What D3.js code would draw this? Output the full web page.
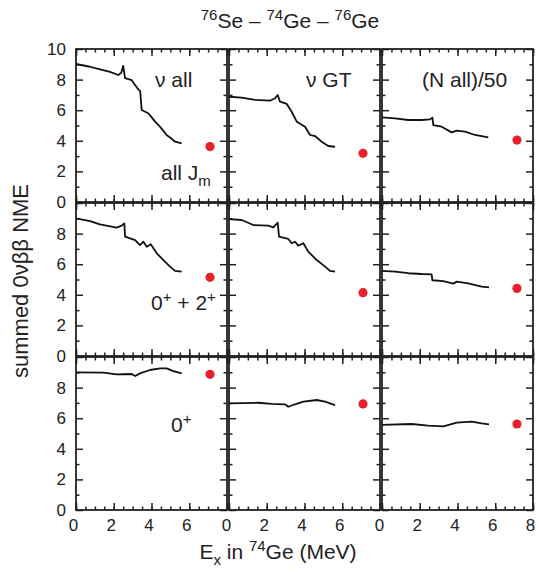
<!DOCTYPE html>
<html>
<head>
<meta charset="utf-8">
<script src="https://cdn.jsdelivr.net/npm/d3@7"></script>
<style>
  body { margin: 0; background: #fff; }
  text { font-family: "Liberation Sans", Arial, Helvetica, sans-serif; fill: #222; }
</style>
</head>
<body>
<div id="chart"></div>
<script>
// summed 0vbb NME vs excitation energy in 74Ge, [E (MeV), NME]
const nuAllAllJ = [[0,9.02],[0.74,8.84],[1.27,8.67],[1.8,8.5],[2.24,8.3],[2.4,8.45],[2.5,8.89],[2.6,8.1],[2.95,7.97],[3.1,7.7],[3.3,7.36],[3.4,7.25],[3.48,6.01],[3.83,5.8],[4.0,5.55],[4.19,5.25],[4.45,4.92],[4.6,4.7],[4.8,4.38],[5.0,4.2],[5.25,3.94],[5.6,3.83]];
const nuGtAllJ = [[0,6.88],[0.67,6.82],[1.38,6.67],[2.17,6.62],[2.44,6.78],[2.58,6.99],[2.7,6.56],[3.06,6.41],[3.32,5.9],[3.59,5.25],[4.03,4.92],[4.29,4.38],[4.56,4.31],[4.91,3.94],[5.26,3.66],[5.62,3.61]];
const nAllAllJ = [[0,5.53],[0.69,5.47],[1.39,5.36],[2.1,5.36],[2.54,5.4],[2.67,5.51],[2.72,5.03],[3.16,4.92],[3.69,4.55],[3.96,4.66],[4.4,4.6],[4.93,4.38],[5.63,4.23]];

const nuAll02 = [[0,9.0],[0.74,8.82],[1.27,8.6],[2.15,8.39],[2.42,8.52],[2.56,8.67],[2.6,7.8],[3.13,7.58],[3.39,7.25],[3.57,7.47],[3.75,7.14],[3.96,7.3],[4.28,6.71],[4.63,6.27],[4.98,5.84],[5.25,5.56],[5.6,5.51]];
const nuGt02 = [[0,8.95],[0.67,8.89],[1.29,8.56],[2.08,8.52],[2.35,8.41],[2.58,8.71],[2.65,7.8],[3.14,7.65],[3.32,7.37],[3.5,7.47],[3.67,7.21],[3.94,7.37],[4.2,6.82],[4.65,6.27],[5.09,5.84],[5.35,5.56],[5.62,5.51]];
const nAll02 = [[0,5.56],[0.69,5.51],[1.39,5.41],[2.1,5.36],[2.63,5.34],[2.67,4.95],[3.25,4.9],[3.78,4.73],[3.96,4.86],[4.57,4.75],[5.28,4.53],[5.67,4.49]];

const nuAll0 = [[0,9.0],[1.45,8.98],[2.15,8.87],[2.95,8.89],[3.13,8.76],[3.39,8.93],[3.92,9.15],[4.45,9.26],[4.8,9.26],[5.16,9.08],[5.6,8.93]];
const nuGt0 = [[0,6.97],[1.55,7.01],[2.26,6.93],[2.97,6.91],[3.14,6.75],[3.5,6.91],[3.94,7.08],[4.65,7.19],[5.09,7.08],[5.35,6.97],[5.62,6.86]];
const nAll0 = [[0,5.56],[1.57,5.62],[2.45,5.51],[3.25,5.47],[3.96,5.71],[4.75,5.77],[5.28,5.66],[5.67,5.6]];

// red points (full calculation), one per panel, row by row
const refE = [7.1, 7.1, 7.15, 7.1, 7.1, 7.15, 7.1, 7.1, 7.15];
const refNme = [3.62, 3.18, 4.05, 5.14, 4.14, 4.42, 8.87, 6.93, 5.62];

const colLabels = ["ν all", "ν GT", "(N all)/50"];
const curves = [
  [nuAllAllJ, nuGtAllJ, nAllAllJ],
  [nuAll02, nuGt02, nAll02],
  [nuAll0, nuGt0, nAll0]
];
const xMajor = [0, 2, 4, 6, 8];
const yMajor = [0, 2, 4, 6, 8, 10];

const width = 539, height = 572;
const panelW = 151, panelH = 153;
const gridLeft = 76, gridTop = 49, colStep = 153, rowStep = 154;

const svg = d3.select("#chart").append("svg")
  .attr("width", width)
  .attr("height", height);

for (let r = 0; r < 3; r++) {
  for (let c = 0; c < 3; c++) {
    const x0 = gridLeft + c * colStep, y0 = gridTop + r * rowStep;
    const x = d3.scaleLinear().domain([0, 8]).range([x0, x0 + panelW]);
    const y = d3.scaleLinear().domain([0, 10]).range([y0 + panelH, y0]);
    const g = svg.append("g");

    const fmtX = d => (r === 2 && (c === 2 || d !== 8)) ? d : "";
    const fmtY = d => (c === 0 && (r === 0 || d !== 10)) ? d : "";

    // bottom
    g.append("g").attr("transform", `translate(0,${y0 + panelH})`)
      .call(d3.axisBottom(x).tickValues(d3.range(0, 8.01, 0.5)).tickSize(-3.5).tickFormat(""));
    g.append("g").attr("class", "xlab").attr("transform", `translate(0,${y0 + panelH})`)
      .call(d3.axisBottom(x).tickValues(xMajor).tickSize(-7).tickPadding(9).tickFormat(fmtX));
    // top
    g.append("g").attr("transform", `translate(0,${y0})`)
      .call(d3.axisTop(x).tickValues(d3.range(0, 8.01, 0.5)).tickSize(-3.5).tickFormat(""));
    g.append("g").attr("transform", `translate(0,${y0})`)
      .call(d3.axisTop(x).tickValues(xMajor).tickSize(-7).tickFormat(""));
    // left
    g.append("g").attr("transform", `translate(${x0},0)`)
      .call(d3.axisLeft(y).tickValues(d3.range(1, 10, 2)).tickSize(-3.5).tickFormat(""));
    g.append("g").attr("transform", `translate(${x0},0)`)
      .call(d3.axisLeft(y).tickValues(yMajor).tickSize(-7).tickPadding(10).tickFormat(fmtY));
    // right
    g.append("g").attr("transform", `translate(${x0 + panelW},0)`)
      .call(d3.axisRight(y).tickValues(d3.range(1, 10, 2)).tickSize(-3.5).tickFormat(""));
    g.append("g").attr("transform", `translate(${x0 + panelW},0)`)
      .call(d3.axisRight(y).tickValues(yMajor).tickSize(-7).tickFormat(""));

    g.selectAll(".domain").remove();
    g.selectAll(".tick line").attr("stroke", "#222").attr("stroke-width", 1.5);
    g.selectAll(".tick text").style("font-size", "17px").attr("fill", "#222");
    g.selectAll(".xlab .tick text").attr("dx", -3);

    g.append("rect")
      .attr("x", x0).attr("y", y0)
      .attr("width", panelW).attr("height", panelH)
      .attr("fill", "none").attr("stroke", "#222").attr("stroke-width", 1.8);

    const line = d3.line().x(d => x(d[0])).y(d => y(d[1]));
    g.append("path")
      .datum(curves[r][c])
      .attr("d", line)
      .attr("fill", "none")
      .attr("stroke", "#111")
      .attr("stroke-width", 1.8)
      .attr("stroke-linejoin", "round");

    const k = r * 3 + c;
    g.append("circle")
      .attr("cx", x(refE[k]))
      .attr("cy", y(refNme[k]))
      .attr("r", 4.6)
      .attr("fill", "#e8202a");

    if (r === 0) {
      const lx = [x0 + 79, x0 + 77, x0 + 40][c];
      g.append("text")
        .attr("x", lx).attr("y", y0 + 38)
        .style("font-size", "21px")
        .text(colLabels[c]);
    }
  }
}

// row labels
const rl1 = svg.append("text").attr("x", 161).attr("y", 180).style("font-size", "21px");
rl1.append("tspan").text("all J");
rl1.append("tspan").attr("dy", 6).style("font-size", "15px").text("m");

const rl2 = svg.append("text").attr("x", 151).attr("y", 310).style("font-size", "21px");
rl2.append("tspan").text("0");
rl2.append("tspan").attr("dy", -8).style("font-size", "15px").text("+");
rl2.append("tspan").attr("dy", 8).text(" + 2");
rl2.append("tspan").attr("dy", -8).style("font-size", "15px").text("+");

const rl3 = svg.append("text").attr("x", 171).attr("y", 432).style("font-size", "21px");
rl3.append("tspan").text("0");
rl3.append("tspan").attr("dy", -8).style("font-size", "15px").text("+");

// title
const title = svg.append("text").attr("x", 290).attr("y", 28)
  .attr("text-anchor", "middle").style("font-size", "21px");
title.append("tspan").attr("dy", -8).style("font-size", "15px").text("76");
title.append("tspan").attr("dy", 8).text("Se – ");
title.append("tspan").attr("dy", -8).style("font-size", "15px").text("74");
title.append("tspan").attr("dy", 8).text("Ge – ");
title.append("tspan").attr("dy", -8).style("font-size", "15px").text("76");
title.append("tspan").attr("dy", 8).text("Ge");

// x axis title
const xt = svg.append("text").attr("x", 278).attr("y", 559)
  .attr("text-anchor", "middle").style("font-size", "21px");
xt.append("tspan").text("E");
xt.append("tspan").attr("dy", 6).style("font-size", "15px").text("x");
xt.append("tspan").attr("dy", -6).text(" in ");
xt.append("tspan").attr("dy", -8).style("font-size", "15px").text("74");
xt.append("tspan").attr("dy", 8).text("Ge (MeV)");

// y axis title
svg.append("text")
  .attr("transform", "translate(28,281) rotate(-90)")
  .attr("text-anchor", "middle")
  .style("font-size", "22px")
  .text("summed 0νββ NME");
</script>
</body>
</html>
